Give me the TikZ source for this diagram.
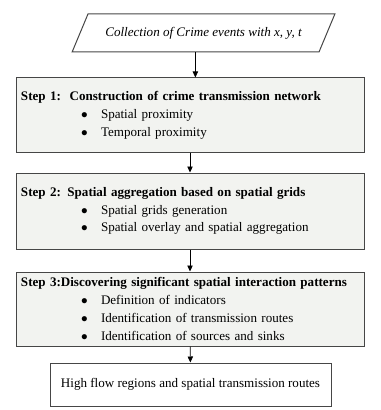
\documentclass[tikz,border=0pt]{standalone}
\usepackage{fontspec}
\setmainfont{Liberation Serif}
\usetikzlibrary{shapes.geometric,arrows.meta}
\definecolor{boxgray}{RGB}{242,243,240}
\definecolor{edgegray}{RGB}{70,70,70}
\newcommand{\stepitem}[1]{\hspace*{45pt}\makebox[15pt][l]{$\bullet$}#1}

\begin{document}
\begin{tikzpicture}[x=0.75pt,y=-0.75pt,
    font=\fontsize{9.8pt}{13.4pt}\selectfont,
    stepbox/.style={draw=edgegray,line width=0.75pt,fill=boxgray,
      minimum width=348*0.75pt,inner xsep=3.75pt,inner ysep=0pt,
      text width=348*0.75pt-7.5pt,align=left},
    flow/.style={-{Triangle[length=4.5pt,width=4pt]},line width=0.6pt}]
  \useasboundingbox (0,0) rectangle (380,410);
  \node[trapezium,trapezium left angle=56,trapezium right angle=124,
    trapezium stretches=true,draw=edgegray,line width=0.75pt,
    minimum width=263*0.75pt,minimum height=38*0.75pt] (input) at (203.5,33)
    {\itshape Collection of Crime events with x, y, t};
  \node[stepbox,minimum height=74*0.75pt] (step1) at (190,115)
    {\textbf{Step 1:\ \ Construction of crime transmission network}\\
     \stepitem{Spatial proximity}\\
     \stepitem{Temporal proximity}};
  \node[stepbox,minimum height=76*0.75pt] (step2) at (190,211)
    {\textbf{Step 2: Spatial aggregation based on spatial grids}\\
     \stepitem{Spatial grids generation}\\
     \stepitem{Spatial overlay and spatial aggregation}};
  \node[stepbox,minimum height=74*0.75pt] (step3) at (190,309)
    {\textbf{Step 3:Discovering significant spatial interaction patterns}\\
     \stepitem{Definition of indicators}\\
     \stepitem{Identification of transmission routes}\\
     \stepitem{Identification of sources and sinks}};
  \node[draw=edgegray,line width=0.75pt,minimum width=281*0.75pt,
    minimum height=43*0.75pt] (result) at (190.5,384.5)
    {High flow regions and spatial transmission routes};
  \draw[flow] (input.bottom side) -- (input.bottom side |- step1.north);
  \draw[flow] (step1) -- (step2);
  \draw[flow] (step2) -- (step3);
  \draw[flow] (step3) -- (result);
\end{tikzpicture}
\end{document}
